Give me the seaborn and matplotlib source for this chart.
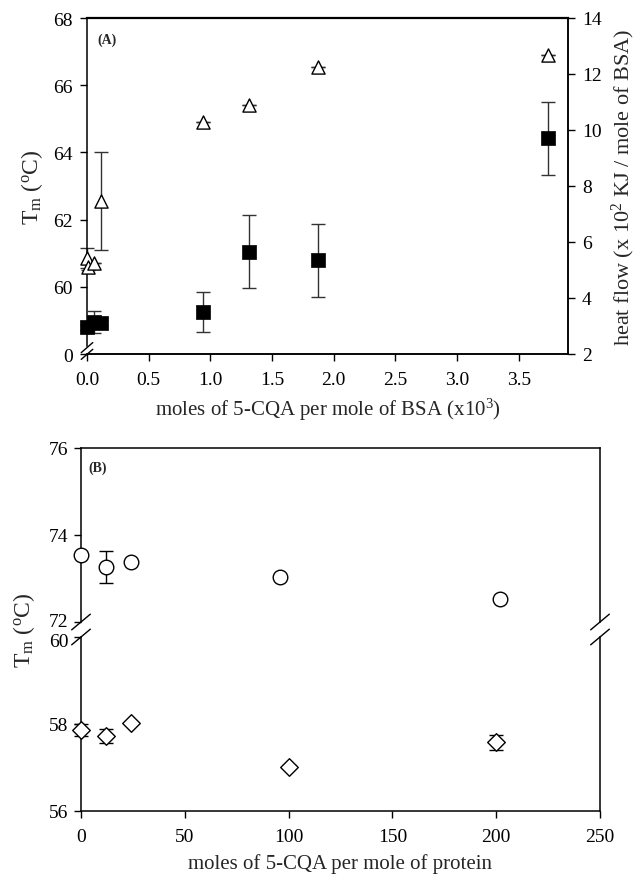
import matplotlib
matplotlib.use("Agg")
import matplotlib.pyplot as plt
import matplotlib.transforms as mtransforms
import seaborn as sns

sns.set_style("ticks")
plt.rcParams['font.family'] = ['Liberation Serif', 'DejaVu Serif']
plt.rcParams['mathtext.fontset'] = 'custom'
plt.rcParams['mathtext.rm'] = 'Liberation Serif'
plt.rcParams['mathtext.it'] = 'Liberation Serif:italic'

# Panel A: Tm (triangles, left axis) and heat flow (squares, right axis)
tri_x = [0.0, 0.01, 0.06, 0.11, 0.94, 1.31, 1.87, 3.74]
tri_y = [60.85, 60.6, 60.7, 62.55, 64.9, 65.4, 66.55, 66.9]
tri_err = [0.3, 0.1, 0.0, 1.45, 0.0, 0.0, 0.0, 0.0]

sq_x = [0.0, 0.06, 0.11, 0.94, 1.31, 1.87, 3.74]
sq_y = [2.95, 3.15, 3.1, 3.5, 5.65, 5.35, 9.7]
sq_err = [0.1, 0.4, 0.1, 0.7, 1.3, 1.3, 1.3]

a_yticks = [58, 60, 62, 64, 66, 68]
a_yticklabels = ["0", "60", "62", "64", "66", "68"]
a_xticks = [0.0, 0.5, 1.0, 1.5, 2.0, 2.5, 3.0, 3.5]
a_y2ticks = [2, 4, 6, 8, 10, 12, 14]

# Panel B: two proteins, broken axis
circ_x = [0, 12, 24, 96, 202]
circ_y = [73.55, 73.27, 73.38, 73.03, 72.53]
circ_err = [0.0, 0.37, 0.0, 0.0, 0.0]

dia_x = [0, 12, 24, 100, 200]
dia_y = [57.86, 57.72, 58.02, 57.02, 57.58]
dia_err = [0.13, 0.16, 0.0, 0.04, 0.17]

b_xticks = [0, 50, 100, 150, 200, 250]

tick_fs = 14
fig = plt.figure(figsize=(6.39, 8.78), dpi=100)

W, H = 639.0, 878.0
def box(l, t, r, b):
    return [l / W, 1 - b / H, (r - l) / W, (b - t) / H]

def style(ax):
    for s in ax.spines.values():
        s.set_linewidth(1.1)
        s.set_color("black")
    ax.tick_params(direction="out", length=5, width=1, pad=5, labelsize=tick_fs, colors="black")

# ---- Panel A ----
axA = fig.add_axes(box(87, 19, 568, 355))
axA2 = axA.twinx()
style(axA)
style(axA2)

axA.errorbar(tri_x, tri_y, yerr=tri_err, fmt="none", ecolor="#333333",
             elinewidth=1, capsize=5, zorder=1, clip_on=False)
sns.scatterplot(x=tri_x, y=tri_y, ax=axA, marker="^", s=90, facecolor="white",
                edgecolor="black", linewidth=1, zorder=3, clip_on=False)

axA2.errorbar(sq_x, sq_y, yerr=sq_err, fmt="none", ecolor="#333333",
              elinewidth=1, capsize=5, zorder=1, clip_on=False)
sns.scatterplot(x=sq_x, y=sq_y, ax=axA2, marker="s", s=90, color="black",
                edgecolor="black", linewidth=0.5, zorder=3, clip_on=False)

axA.set_xlim(0, 3.9)
axA.set_ylim(58, 68)
axA.set_yticks(a_yticks)
axA.set_yticklabels(a_yticklabels)
axA.set_xticks(a_xticks)
axA.set_xticklabels([f"{v:.1f}" for v in a_xticks])
axA2.set_ylim(2, 14)
axA2.set_yticks(a_y2ticks)
axA.spines["left"].set_bounds(58.25, 68)
axA2.spines["left"].set_visible(False)
axA.spines["top"].set_linewidth(1.6)
axA.tick_params(axis="x", pad=7)

axA.set_xlabel("moles of 5-CQA per mole of BSA (x10$^3$)", fontsize=15, labelpad=6)
axA.set_ylabel("T$_\\mathrm{m}$ ($^\\mathrm{o}$C)", fontsize=17, labelpad=6)
axA2.set_ylabel("heat flow (x 10$^2$ KJ / mole of BSA)", fontsize=16, labelpad=6)
axA.text(0.022, 0.925, "(A)", transform=axA.transAxes, fontsize=10, fontweight="bold")

kw = dict(transform=axA.transAxes, color="black", lw=1, clip_on=False)
axA.plot([-0.012, 0.012], [0.004, 0.034], **kw)
axA.plot([-0.012, 0.012], [-0.016, 0.014], **kw)

# ---- Panel B ----
axT = fig.add_axes(box(81, 449, 600, 623))
axB = fig.add_axes(box(81, 638, 600, 812), sharex=axT)
style(axT)
style(axB)

axT.errorbar(circ_x, circ_y, yerr=circ_err, fmt="none", ecolor="black",
             elinewidth=1, capsize=5, zorder=1, clip_on=False)
sns.scatterplot(x=circ_x, y=circ_y, ax=axT, marker="o", s=110, facecolor="white",
                edgecolor="black", linewidth=1, zorder=3, clip_on=False)
axB.errorbar(dia_x, dia_y, yerr=dia_err, fmt="none", ecolor="black",
             elinewidth=1, capsize=5, zorder=1, clip_on=False)
sns.scatterplot(x=dia_x, y=dia_y, ax=axB, marker="D", s=80, facecolor="white",
                edgecolor="black", linewidth=1, zorder=3, clip_on=False)

axT.set_ylim(72, 76)
axT.set_yticks([72, 74, 76])
axB.set_ylim(56, 60)
axB.set_yticks([56, 58, 60])
axB.set_xlim(0, 250)
axB.set_xticks(b_xticks)
axT.spines["bottom"].set_visible(False)
axB.spines["top"].set_visible(False)
axT.tick_params(axis="x", bottom=False, labelbottom=False)
axT.tick_params(axis="y", pad=4)
axB.tick_params(axis="y", pad=4)
axB.tick_params(axis="x", pad=7)
axT.set_ylabel("")
axB.set_ylabel("")
axB.set_xlabel("moles of 5-CQA per mole of protein", fontsize=15, labelpad=6)
axT.text(0.015, 0.87, "(B)", transform=axT.transAxes, fontsize=10, fontweight="bold")
fig.text(24 / W, 1 - 630 / H, "T$_\\mathrm{m}$ ($^\\mathrm{o}$C)", fontsize=17,
         rotation=90, ha="center", va="center")

# nudge the stacked "72" / "60" labels apart a little at the break
fig.canvas.draw()
up = mtransforms.ScaledTranslation(0, 2 / 72, fig.dpi_scale_trans)
down = mtransforms.ScaledTranslation(0, -2 / 72, fig.dpi_scale_trans)
axT.get_yticklabels()[0].set_transform(axT.get_yticklabels()[0].get_transform() + up)
axB.get_yticklabels()[-1].set_transform(axB.get_yticklabels()[-1].get_transform() + down)

for ax, yy in [(axT, 0.0), (axB, 1.0)]:
    for xx in (0.0, 1.0):
        ax.plot([xx - 0.018, xx + 0.018], [yy - 0.045, yy + 0.045],
                transform=ax.transAxes, color="black", lw=1, clip_on=False)

fig.savefig("out.png", dpi=100)
